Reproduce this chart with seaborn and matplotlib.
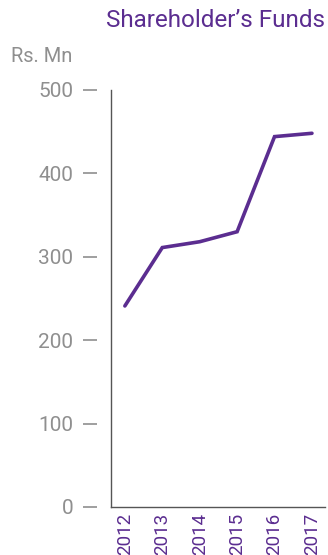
import matplotlib
matplotlib.use("Agg")
import matplotlib.pyplot as plt
import seaborn as sns
import pandas as pd

years = ["2012", "2013", "2014", "2015", "2016", "2017"]
funds = [241, 311, 318, 330, 444, 448]
y_ticks = [0, 100, 200, 300, 400, 500]

purple = "#5b2d90"
grey = "#8f8f8f"

sns.set_theme(style="white")
plt.rcParams["font.family"] = ["Roboto", "DejaVu Sans"]

df = pd.DataFrame({"pos": range(len(years)), "funds": funds})

fig = plt.figure(figsize=(3.28, 5.55), dpi=100)
ax = fig.add_axes([0.338, 0.0865, 0.653, 0.7515])

sns.lineplot(data=df, x="pos", y="funds", ax=ax, color=purple, linewidth=2.6,
             solid_capstyle="round", solid_joinstyle="miter")

ax.set_xlim(-0.374, 5.35)
ax.set_ylim(0, 500)
ax.set_xticks(range(len(years)))
ax.set_xticklabels(years, rotation=90, color=purple, fontsize=13.5)
ax.set_yticks(y_ticks)
ax.set_yticklabels([str(v) for v in y_ticks], color=grey, fontsize=15)
ax.tick_params(axis="x", length=0, pad=4)
ax.tick_params(axis="y", length=0, pad=27)
ax.set_xlabel("")
ax.set_ylabel("")

# detached dash marks beside each y label
ax.hlines(y_ticks, -0.13, -0.065, transform=ax.get_yaxis_transform(),
          colors=grey, linewidth=1.2, clip_on=False)

for side in ["top", "right"]:
    ax.spines[side].set_visible(False)
for side in ["left", "bottom"]:
    ax.spines[side].set_color("#555555")
    ax.spines[side].set_linewidth(1.0)

fig.text(0.991, 0.963, "Shareholder\u2019s Funds", ha="right", va="center",
         color=purple, fontsize=17.5)
fig.text(0.035, 0.898, "Rs. Mn", ha="left", va="center", color=grey,
         fontsize=14.5)

fig.savefig("out.png", dpi=100)
